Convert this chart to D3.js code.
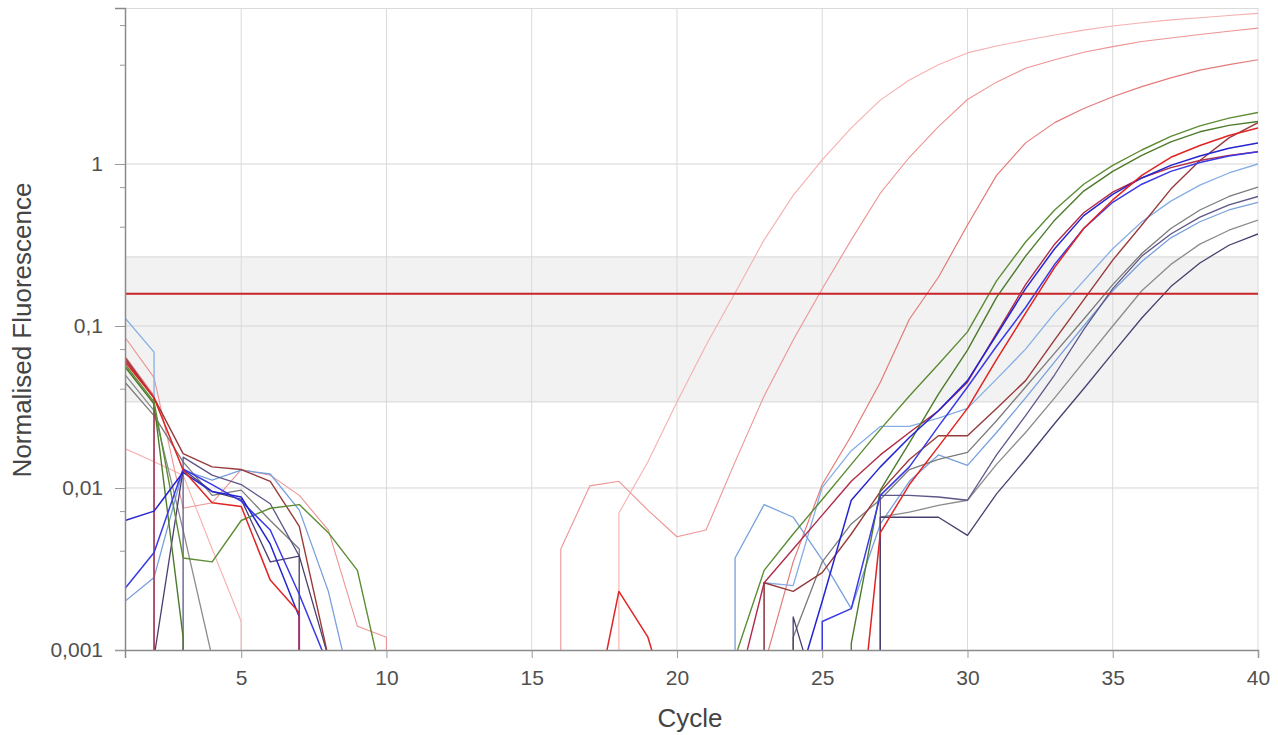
<!DOCTYPE html>
<html>
<head>
<meta charset="utf-8">
<script src="https://cdn.jsdelivr.net/npm/d3@7"></script>
<style>
  body { margin: 0; background: #fff; }
  text { font-family: "Liberation Sans", Arial, sans-serif; }
</style>
</head>
<body>
<script>
// amplification data, one value per cycle (0 = below detection)
var cycles = [1,2,3,4,5,6,7,8,9,10,11,12,13,14,15,16,17,18,19,20,
              21,22,23,24,25,26,27,28,29,30,31,32,33,34,35,36,37,38,39,40];

var pink1 = [0.0175,0.0145,0.012,0.0042,0.0015,0,0,0,0,0,0,0,0,0,0,0,0,
             0.007,0.0145,0.034,0.076,0.16,0.34,0.64,1.06,1.67,2.48,3.3,4.1,4.85,
             5.35,5.8,6.25,6.7,7.1,7.45,7.75,8.0,8.25,8.5];
var pink2 = [0.085,0.048,0.0075,0.0081,0.013,0.012,0.009,0.0055,0.0014,0.0012,0,0,0,0,0,
             0.0042,0.0103,0.011,0.0073,0.005,0.0055,0.0145,0.037,0.082,0.17,0.34,0.66,1.1,1.7,2.5,
             3.2,3.9,4.4,4.9,5.3,5.7,6.0,6.3,6.6,6.9];
var pink3 = [0.065,0.037,0,0,0,0,0,0,0,0,0,0,0,0,0,0,0,0,0,0,0,0,
             0.0008,0.0035,0.0105,0.021,0.045,0.11,0.2,0.42,0.85,1.35,1.8,2.2,2.6,3.0,3.4,3.8,4.1,4.4];
var red1 = [0.06,0.036,0.0129,0.0081,0.0077,0.0027,0.0017,0,0,0,0,0,0,0,0,0,
            0.0003,0.0023,0.0012,0.0003,0,0,0,0,0,
            0.0001,0.0053,0.0105,0.018,0.031,0.062,0.12,0.23,0.4,0.6,0.85,1.1,1.3,1.5,1.67];
var green1 = [0.058,0.034,0.0037,0.0035,0.0063,0.0075,0.0079,0.0053,0.0031,0.0005,
              0,0,0,0,0,0,0,0,0,0,0,
              0.0009,0.0031,0.0052,0.0085,0.014,0.023,0.037,0.058,0.092,0.19,0.33,0.52,0.75,0.98,1.22,1.48,1.72,1.92,2.08];
var green2 = [0.056,0.033,0.0012,0,0,0,0,0,0,0,0,0,0,0,0,0,0,0,0,0,0,0,0,0,0,
              0.0011,0.0097,0.019,0.038,0.071,0.15,0.27,0.45,0.68,0.9,1.13,1.37,1.58,1.73,1.83];
var blue1 = [0.0063,0.0072,0.0125,0.0095,0.0088,0.0045,0.0016,0,0,0,0,0,0,0,0,0,0,0,0,0,0,0,0,
             0.0005,0.002,0.0084,0.0135,0.0205,0.03,0.046,0.088,0.17,0.3,0.48,0.65,0.82,0.98,1.12,1.25,1.35];
var blue2 = [0.0024,0.004,0.0131,0.0105,0.0083,0.0055,0.0022,0.0008,0,0,0,0,0,0,0,0,0,0,0,0,0,0,0,0,
             0.0015,0.0018,0.009,0.0135,0.024,0.042,0.075,0.13,0.24,0.4,0.58,0.75,0.9,1.02,1.12,1.19];
var crimson = [0.062,0.036,0,0,0,0,0,0,0,0,0,0,0,0,0,0,0,0,0,0,0,
               0.0005,0.0026,0.0042,0.0068,0.011,0.016,0.022,0.03,0.045,0.09,0.18,0.32,0.5,0.67,0.82,0.95,1.05,1.13,1.19];
var sky1 = [0.112,0.069,0,0,0,0,0,0,0,0,0,0,0,0,0,0,0,0,0,0,0,0,
            0.0026,0.0025,0.0101,0.017,0.024,0.024,0.027,0.031,0.047,0.072,0.12,0.19,0.3,0.44,0.59,0.74,0.88,1.0];
var sky2 = [0.002,0.0028,0.0129,0.0112,0.0129,0.0122,0.0073,0.0023,0.0004,0,0,0,0,0,0,0,0,0,0,0,0,
            0.0037,0.0079,0.0066,0.0036,0.0018,0.006,0.011,0.016,0.0138,0.022,0.036,0.06,0.1,0.165,0.25,0.35,0.44,0.52,0.58];
var maroon = [0.064,0.036,0.0163,0.0135,0.013,0.011,0.0058,0.0009,0,0,0,0,0,0,0,0,0,0,0,0,0,0,
              0.0026,0.0023,0.003,0.0052,0.0095,0.015,0.021,0.021,0.031,0.046,0.082,0.145,0.255,0.42,0.7,1.05,1.45,1.8];
var grey1 = [0.045,0.028,0.0145,0.009,0.0097,0.0063,0.0042,0,0,0,0,0,0,0,0,0,0,0,0,0,0,0,0,
             0.0012,0.0035,0.006,0.0085,0.013,0.015,0.0166,0.026,0.042,0.068,0.11,0.18,0.28,0.4,0.52,0.63,0.72];
var slate1 = [0.05,0,0.0155,0.012,0.0105,0.008,0.0038,0,0,0,0,0,0,0,0,0,0,0,0,0,0,0,0,0,0,0,
              0.009,0.009,0.0088,0.0084,0.016,0.028,0.05,0.095,0.17,0.27,0.37,0.47,0.56,0.63];
var grey2 = [0.05,0.03,0.0055,0.0009,0,0,0,0,0,0,0,0,0,0,0,0,0,0,0,0,0,0,0,0,0,0,
             0.0066,0.0071,0.0078,0.0084,0.014,0.022,0.036,0.06,0.1,0.165,0.24,0.32,0.39,0.45];
var slate2 = [0,0.0009,0.013,0.0095,0.0085,0.0035,0.0038,0.0009,0,0,0,0,0,0,0,0,0,0,0,0,0,0,0,
              0.0016,0.0004,0,0.0066,0.0066,0.0066,0.0051,0.0092,0.015,0.025,0.041,0.068,0.112,0.175,0.245,0.315,0.37];

var series = [pink1, pink2, pink3, sky1, sky2, grey1, grey2, slate1, slate2, maroon,
              crimson, green2, green1, blue2, blue1, red1];
var colors = ["#f6b0b0", "#ee9494", "#e47a7a", "#86aee6", "#78a0dc", "#7a7a7a", "#8c8c8c",
              "#5e5688", "#4a3e6e", "#983a3a", "#b02c48", "#4d7a2c", "#5c8c34", "#3a3ae6",
              "#2424d0", "#e02424"];
var widths = [1.1, 1.1, 1.2, 1.3, 1.3, 1.3, 1.3, 1.3, 1.3, 1.4, 1.4, 1.4, 1.4, 1.5, 1.5, 1.5];

var threshold = 0.158;
var band = [0.034, 0.267];
var xTicks = [5,10,15,20,25,30,35,40];
var yTicks = [1, 0.1, 0.01, 0.001];
var yLabels = ["1", "0,1", "0,01", "0,001"];
var yMinor = [7.2, 4.1, 0.72, 0.41, 0.072, 0.041, 0.0072, 0.0041];

var w = 1278, h = 735;
var pl = 125, pr = 1258, pt = 8, pb = 650;

var svg = d3.select("body").append("svg")
  .attr("width", w)
  .attr("height", h);

var x = d3.scaleLinear().domain([1, 40]).range([pl, pr]);
var y = d3.scaleLog().domain([0.001, 9.18]).range([pb, pt]);

svg.append("clipPath").attr("id", "plot")
  .append("rect")
    .attr("x", pl).attr("y", pt)
    .attr("width", pr - pl).attr("height", pb - pt);

// grey band round the threshold
svg.append("rect")
  .attr("x", pl).attr("width", pr - pl)
  .attr("y", y(band[1])).attr("height", y(band[0]) - y(band[1]))
  .attr("fill", "#f2f2f2");

// grid
svg.selectAll(".vgrid")
  .data(xTicks)
  .enter()
  .append("line")
    .attr("x1", function(d) { return x(d); })
    .attr("x2", function(d) { return x(d); })
    .attr("y1", pt).attr("y2", pb)
    .attr("stroke", "#dadada");

svg.selectAll(".hgrid")
  .data(yTicks.slice(0, 3).concat(band))
  .enter()
  .append("line")
    .attr("x1", pl).attr("x2", pr)
    .attr("y1", function(d) { return y(d); })
    .attr("y2", function(d) { return y(d); })
    .attr("stroke", "#d6d6d6");

svg.append("line")
  .attr("x1", pl).attr("x2", pr)
  .attr("y1", pt + 0.5).attr("y2", pt + 0.5)
  .attr("stroke", "#dadada");

// values at 0 drop straight to the axis
function points(vals) {
  var p = [];
  vals.forEach(function(v, i) {
    if (v > 0) {
      p.push([x(cycles[i]), y(v)]);
      return;
    }
    if (i > 0 && vals[i-1] > 0) p.push([x(cycles[i-1]), pb + 6]);
    if (i < vals.length - 1 && vals[i+1] > 0) p.push([x(cycles[i+1]), pb + 6]);
  });
  return p;
}

var line = d3.line();

svg.append("g")
  .attr("clip-path", "url(#plot)")
  .selectAll("path")
  .data(series)
  .enter()
  .append("path")
    .attr("d", function(d) { return line(points(d)); })
    .attr("fill", "none")
    .attr("stroke", function(d, i) { return colors[i]; })
    .attr("stroke-width", function(d, i) { return widths[i]; })
    .attr("stroke-linejoin", "round");

// threshold
svg.append("line")
  .attr("x1", pl).attr("x2", pr)
  .attr("y1", y(threshold)).attr("y2", y(threshold))
  .attr("stroke", "#c82428")
  .attr("stroke-width", 2);

// axes
svg.append("g")
  .attr("transform", "translate(" + pl + ",0)")
  .call(d3.axisLeft(y)
    .tickValues(yTicks)
    .tickFormat(function(d, i) { return yLabels[i]; })
    .tickSize(10)
    .tickPadding(12));

svg.append("g")
  .attr("transform", "translate(" + pl + ",0)")
  .call(d3.axisLeft(y).tickValues(yMinor).tickFormat("").tickSize(5))
  .call(function(g) { g.select(".domain").remove(); });

svg.append("g")
  .attr("transform", "translate(0," + pb + ")")
  .call(d3.axisBottom(x)
    .tickValues(xTicks)
    .tickSize(8)
    .tickPadding(12));

svg.selectAll(".domain").attr("stroke", "#8a8a8a").attr("stroke-width", 1.5);
svg.selectAll(".tick line").attr("stroke", "#9a9a9a");
svg.selectAll(".tick text")
  .style("font-size", "21px")
  .attr("fill", "#505050");

svg.append("text")
  .text("Cycle")
  .attr("x", 690).attr("y", 727)
  .attr("text-anchor", "middle")
  .style("font-size", "26px")
  .attr("fill", "#444");

svg.append("text")
  .text("Normalised Fluorescence")
  .attr("transform", "translate(31,330) rotate(-90)")
  .attr("text-anchor", "middle")
  .style("font-size", "26px")
  .attr("fill", "#444");
</script>
</body>
</html>
